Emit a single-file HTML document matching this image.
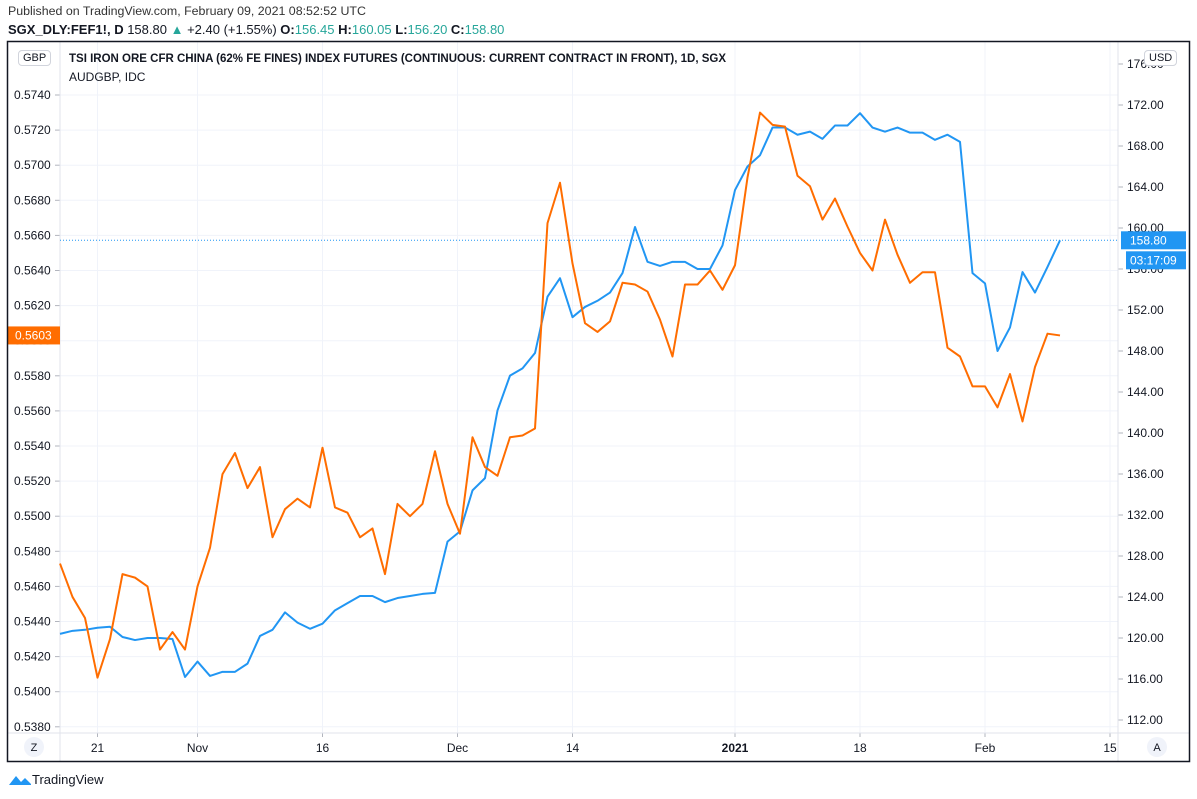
<!DOCTYPE html>
<html><head><meta charset="utf-8"><style>
body{margin:0;background:#fff;font-family:"Liberation Sans",sans-serif;}
#wrap{position:relative;width:1197px;height:799px;overflow:hidden;}
.t{position:absolute;white-space:nowrap;}
</style></head><body>
<div id="wrap">
<div class="t" style="left:8px;top:4px;font-size:12.4px;color:#333;">Published on TradingView.com, February 09, 2021 08:52:52 UTC</div>
<div class="t" style="left:8px;top:22px;font-size:13px;color:#131722;"><b style="font-weight:600">SGX_DLY:FEF1!, D</b> 158.80 <span style="color:#26a69a">▲</span> +2.40 (+1.55%) <b style="font-weight:600">O:</b><span style="color:#26a69a">156.45</span> <b style="font-weight:600">H:</b><span style="color:#26a69a">160.05</span> <b style="font-weight:600">L:</b><span style="color:#26a69a">156.20</span> <b style="font-weight:600">C:</b><span style="color:#26a69a">158.80</span></div>
<svg id="chart" width="1197" height="799" style="position:absolute;left:0;top:0"></svg>
<div class="t" style="left:18px;top:50px;font-size:11px;color:#131722;border:1px solid #d1d4dc;border-radius:4px;padding:1px 4px;background:#fff">GBP</div>
<div class="t" style="left:1144px;top:50px;font-size:11px;color:#131722;border:1px solid #d1d4dc;border-radius:4px;padding:1px 4px;background:#fff">USD</div>
<div class="t" style="left:69px;top:53px;font-size:11.5px;font-weight:bold;color:#131722">TSI IRON ORE CFR CHINA (62% FE FINES) INDEX FUTURES (CONTINUOUS: CURRENT CONTRACT IN FRONT), 1D, SGX</div>
<div class="t" style="left:69px;top:70px;font-size:12px;color:#131722">AUDGBP, IDC</div>
<div class="t" style="left:8px;top:772px;font-size:13px;color:#131722"><svg width="24" height="14" style="vertical-align:-2px"><path d="M1 13 L8 4 L13 10 L17 6 L23 12 L23 13 Z" fill="#2196f3"/></svg>TradingView</div>
</div>
<script>
const categoryCount = 81;
const usdValues = [120.4,120.7,120.8,121.0,121.1,120.1,119.8,120.0,120.0,119.9,116.2,117.7,116.3,116.7,116.7,117.5,120.2,120.8,122.5,121.5,120.9,121.4,122.7,123.4,124.1,124.1,123.5,123.9,124.1,124.3,124.4,129.4,130.4,134.4,135.6,142.2,145.6,146.3,147.8,153.3,155.1,151.3,152.3,152.9,153.7,155.6,160.1,156.7,156.3,156.7,156.7,156.0,156.0,158.3,163.7,166.0,167.1,169.8,169.8,169.1,169.4,168.7,170.0,170.0,171.2,169.8,169.4,169.8,169.3,169.3,168.6,169.1,168.4,155.6,154.6,148.0,150.3,155.7,153.7,156.2,158.8];
const gbpValues = [0.5473,0.5454,0.5442,0.5408,0.5430,0.5467,0.5465,0.5460,0.5424,0.5434,0.5424,0.5460,0.5482,0.5524,0.5536,0.5516,0.5528,0.5488,0.5504,0.5510,0.5505,0.5539,0.5505,0.5502,0.5488,0.5493,0.5467,0.5507,0.5500,0.5507,0.5537,0.5507,0.5490,0.5545,0.5528,0.5523,0.5545,0.5546,0.5550,0.5667,0.5690,0.5644,0.5610,0.5605,0.5611,0.5633,0.5632,0.5628,0.5612,0.5591,0.5632,0.5632,0.5640,0.5629,0.5643,0.5693,0.5730,0.5723,0.5722,0.5694,0.5688,0.5669,0.5681,0.5665,0.5650,0.5640,0.5669,0.5649,0.5633,0.5639,0.5639,0.5596,0.5591,0.5574,0.5574,0.5562,0.5581,0.5554,0.5585,0.5604,0.5603];
const timeLabels = ["21","Nov","16","Dec","14","2021","18","Feb","15"];
const timeLabelIdx = [3,11,21,31.8,41,54,64,74,84];
const usdTicks = [112,116,120,124,128,132,136,140,144,148,152,156,160,164,168,172,176];
const gbpTicks = [0.5380,0.5400,0.5420,0.5440,0.5460,0.5480,0.5500,0.5520,0.5540,0.5560,0.5580,0.5600,0.5620,0.5640,0.5660,0.5680,0.5700,0.5720,0.5740];

const NS="http://www.w3.org/2000/svg";
const svg=document.getElementById('chart');
const X=i=>60+12.5*i;
const YU=v=>105+(172-v)*10.25;
const YG=v=>95+(0.5740-v)*17550;
function mk(tag,attrs,parent){const e=document.createElementNS(NS,tag);for(const k in attrs)e.setAttribute(k,attrs[k]);(parent||svg).appendChild(e);return e;}
gbpTicks.forEach(v=>{const y=YG(v);
 const g=mk('line',{x1:60,x2:1118,y1:y,y2:y,stroke:'#f0f3fa'});
 
 
 mk('line',{x1:55,x2:60,y1:y,y2:y,stroke:'#b2b5be'});
 const t=mk('text',{x:14,y:y+4,'font-size':12,fill:'#131722','font-family':'Liberation Sans, sans-serif'});
 t.textContent=v.toFixed(4);
 
 
});
usdTicks.forEach(v=>{const y=YU(v);
 mk('line',{x1:1118,x2:1123,y1:y,y2:y,stroke:'#b2b5be'});
 const t=mk('text',{x:1127,y:y+4,'font-size':12,fill:'#131722','font-family':'Liberation Sans, sans-serif'});
 t.textContent=v.toFixed(2);
 
 
});
timeLabels.forEach((s,k)=>{const x=X(timeLabelIdx[k]);
 const g=mk('line',{x1:x,x2:x,y1:42,y2:733,stroke:'#f0f3fa'});
 
 
 mk('line',{x1:x,x2:x,y1:733,y2:737,stroke:'#b2b5be'});
 const t=mk('text',{x:x,y:752,'font-size':12,fill:'#131722','text-anchor':'middle','font-family':'Liberation Sans, sans-serif','font-weight':s==='2021'?'bold':'normal'});
 t.textContent=s;
 
 
});
mk('line',{x1:60,x2:60,y1:42,y2:761,stroke:'#e0e3eb'});
mk('line',{x1:1118,x2:1118,y1:42,y2:761,stroke:'#e0e3eb'});
mk('line',{x1:8,x2:1190,y1:733,y2:733,stroke:'#e0e3eb'});
const lp=mk('line',{x1:60,x2:1118,y1:YU(usdValues[80]),y2:YU(usdValues[80]),stroke:'#2196f3','stroke-dasharray':'1 2'});


const bl=mk('polyline',{points:usdValues.map((v,i)=>X(i)+','+YU(v)).join(' '),fill:'none',stroke:'#2196f3','stroke-width':2,'stroke-linejoin':'round'});


const ol=mk('polyline',{points:gbpValues.map((v,i)=>X(i)+','+YG(v)).join(' '),fill:'none',stroke:'#ff6d00','stroke-width':2,'stroke-linejoin':'round'});


const yb=YU(usdValues[80]);
const b1=mk('rect',{x:1121,y:yb-9,width:65,height:18,fill:'#2196f3'});


const t1=mk('text',{x:1130,y:yb+4,'font-size':12,fill:'#fff','font-family':'Liberation Sans, sans-serif'});t1.textContent=usdValues[80].toFixed(2);
const b2=mk('rect',{x:1126,y:yb+11,width:60,height:18,fill:'#2196f3'});


const t2=mk('text',{x:1130,y:yb+24,'font-size':12,fill:'#fff','font-family':'Liberation Sans, sans-serif'});t2.textContent='03:17:09';
const yo=YG(gbpValues[80]);
const b3=mk('rect',{x:7,y:yo-9,width:53,height:18,fill:'#ff6d00'});


const t3=mk('text',{x:15,y:yo+4,'font-size':12,fill:'#fff','font-family':'Liberation Sans, sans-serif'});t3.textContent=gbpValues[80].toFixed(4);
const z=mk('circle',{cx:34,cy:747,r:10,fill:'#f0f3fa'});


const zt=mk('text',{x:34,y:751,'font-size':11,fill:'#131722','text-anchor':'middle'});zt.textContent='Z';
const a=mk('circle',{cx:1157,cy:747,r:10,fill:'#f0f3fa'});


const at=mk('text',{x:1157,y:751,'font-size':11,fill:'#131722','text-anchor':'middle'});at.textContent='A';
const br=mk('rect',{x:7.5,y:41.5,width:1182,height:720,fill:'none',stroke:'#131722','stroke-width':1.5});


</script>
</body></html>
